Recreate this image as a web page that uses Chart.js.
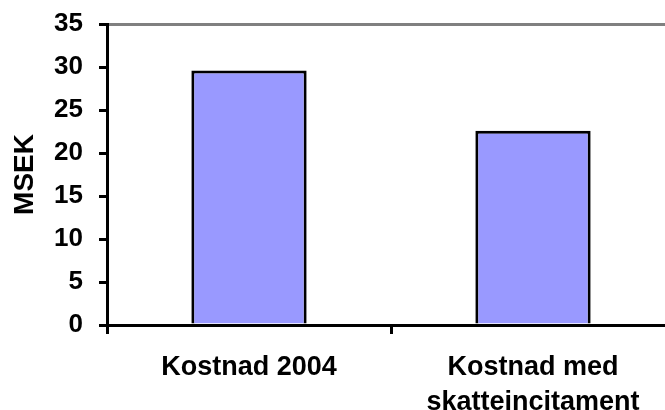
<!DOCTYPE html>
<html>
<head>
<meta charset="utf-8" />
<script src="https://cdn.jsdelivr.net/npm/chart.js"></script>
<style>
  html, body { margin: 0; padding: 0; background: #fff; overflow: hidden; }
  #wrap { width: 665px; height: 410px; overflow: hidden; }
</style>
</head>
<body>
<div id="wrap"><canvas id="chart" width="675" height="410"></canvas></div>
<script>
// data
const categories = ["Kostnad 2004", ["Kostnad med", "skatteincitament"]];
const costValues = [29.6, 22.6];
const yTicks = [0, 5, 10, 15, 20, 25, 30, 35];

const family = "'Liberation Sans', Arial, sans-serif";
const tickFont = { family: family, size: 26, weight: "bold" };

const ctx = document.getElementById("chart").getContext("2d");
new Chart(ctx, {
  type: "bar",
  data: {
    labels: categories,
    datasets: [{
      label: "MSEK",
      data: costValues,
      backgroundColor: "#9999FF",
      borderColor: "#000000",
      borderWidth: 3,
      barPercentage: 0.406,
      categoryPercentage: 1
    }]
  },
  options: {
    responsive: false,
    animation: false,
    layout: { padding: { top: 24, right: 0, left: 0, bottom: 0 } },
    plugins: {
      legend: { display: false },
      tooltip: { enabled: false }
    },
    scales: {
      x: {
        border: { color: "#000", width: 3 },
        grid: { color: "transparent", tickColor: "#000", tickLength: 9, lineWidth: 3, offset: true },
        ticks: { color: "#000", font: { family: family, size: 27, weight: "bold", lineHeight: 1.3 }, padding: 16, maxRotation: 0, autoSkip: false },
        afterFit: (scale) => { scale.height = 85; }
      },
      y: {
        min: 0,
        max: 35,
        border: { color: "#000", width: 3 },
        grid: {
          color: (c) => (c.tick && c.tick.value === yTicks[yTicks.length - 1] ? "#808080" : "transparent"),
          tickColor: "#000",
          tickLength: 8,
          lineWidth: 3
        },
        afterBuildTicks: (scale) => { scale.ticks = yTicks.map((v) => ({ value: v })); },
        ticks: { color: "#000", font: tickFont, padding: 16 },
        title: { display: true, text: "MSEK", color: "#000", font: { family: family, size: 28, weight: "bold", lineHeight: 1 }, padding: { top: 11, bottom: 0 } },
        afterFit: (scale) => {
          scale.width = 107;
          scale.paddingTop = 0;
          scale.paddingBottom = 0;
        }
      }
    }
  }
});
</script>
</body>
</html>
